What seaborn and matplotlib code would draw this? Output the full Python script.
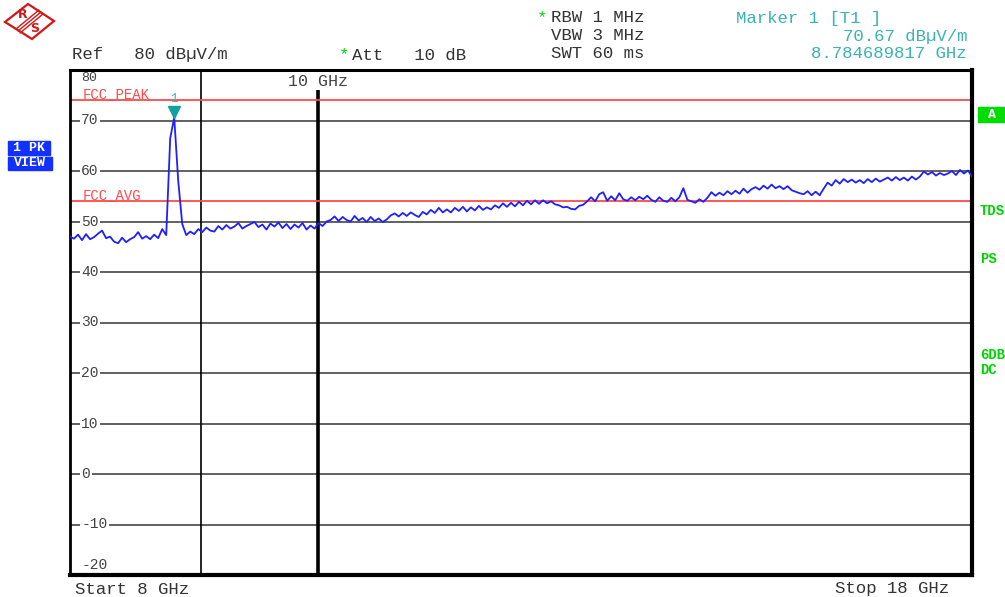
import numpy as np
import matplotlib.pyplot as plt
import matplotlib.transforms as mtransforms
from matplotlib.patches import Polygon, Rectangle
import seaborn as sns

# Sweep settings (GHz), log frequency axis
f_start = 8.0
f_stop = 18.0
n_points = 226
freq_ghz = np.geomspace(f_start, f_stop, n_points)

# Peak trace (dBuV/m)
level_dbuv = [
    47.0, 46.6, 47.4, 46.3, 47.5, 46.5, 46.9, 47.6, 48.2, 46.7,
    47.0, 46.0, 45.7, 46.8, 45.9, 46.5, 46.9, 47.9, 46.6, 47.1,
    46.5, 47.4, 46.7, 48.5, 47.3,
    66.5, 70.6, 58.0, 49.5,
    47.3, 48.0, 47.5, 48.5, 47.9, 48.8, 48.2, 48.0, 49.1, 48.4,
    49.3, 48.6, 49.0, 49.7, 48.6, 49.1, 49.5, 49.9, 48.9, 49.4,
    48.4, 49.6, 49.0, 49.8, 48.7, 49.5, 48.5, 49.4, 48.8, 49.7,
    48.4, 49.2, 48.6, 49.7, 49.1,
    50.0, 50.3, 51.0, 50.1, 50.9, 50.3, 50.0, 51.1, 50.2, 50.7,
    49.9, 50.9, 50.1, 50.6, 49.9, 50.4,
    51.2, 51.6, 51.0, 51.7, 51.1, 51.8, 51.3, 50.9, 51.9, 51.4,
    52.3, 51.7, 52.7, 51.8, 52.4, 51.8, 52.7, 52.1, 52.9, 52.0,
    52.8, 52.2, 53.1, 52.3, 52.8, 52.4,
    53.2, 52.7, 53.6, 52.9, 53.7, 53.0, 53.9, 53.2, 54.1, 53.4,
    54.2, 53.5, 54.2, 53.6, 54.0, 53.4,
    53.2, 52.8, 52.9, 52.5, 52.4, 53.1, 53.3, 54.0, 54.8, 54.0,
    55.4, 55.8, 54.1, 55.0, 54.2, 55.6, 54.4, 54.1, 54.8, 54.2,
    54.9, 54.4, 55.1, 54.3, 53.9, 54.8, 54.1, 53.9, 54.7, 54.0,
    54.8, 56.6,
    54.3, 54.0, 53.7, 54.4, 53.9, 54.7,
    55.8, 55.1, 55.7, 55.2, 56.0, 55.4, 56.1, 55.5, 56.5, 55.7,
    56.4, 56.8, 56.3, 57.1, 56.5, 57.3, 56.6, 57.0, 56.4, 57.0,
    56.2,
    55.9, 55.6, 55.4, 56.0, 55.2, 55.9, 55.2, 56.5,
    57.7, 57.1, 58.2, 57.5, 58.4, 57.8, 58.3, 57.7, 58.2, 57.6,
    58.4, 57.8, 58.5, 57.9, 58.3, 58.7, 58.1, 58.8, 58.2, 58.7,
    58.1, 58.9, 58.3, 58.9,
    59.9, 59.3, 59.8, 59.1, 59.6, 59.2, 59.5, 60.0, 59.2, 60.2,
    59.5, 60.1, 58.9,
]

ref_level = 80
y_ticks = [80, 70, 60, 50, 40, 30, 20, 10, 0, -10, -20]
limit_lines = {"FCC_PEAK": 74, "FCC_AVG": 54}
marker_freq = 8.784689817
marker_level = 70.67
grid_freqs = [9, 10]

# colours
trace_col = "#1f1fff"
limit_col = "#ff4a4a"
teal = "#3bb3b3"
green = "#00d400"
grey_txt = "#444444"

sns.set_style("white")
plt.rcParams["font.family"] = ["Liberation Mono", "DejaVu Sans Mono"]

W, H = 1005, 597
fig = plt.figure(figsize=(W / 100, H / 100), dpi=100)
ax = fig.add_axes([70 / W, 1 - 575 / H, (972 - 70) / W, (575 - 70) / H])


def fx(px):
    return px / W


def fy(py):
    return 1 - py / H


# horizontal graticule
for v in y_ticks[1:-1]:
    ax.axhline(v, color="#606060", lw=1.4, zorder=1)
# vertical graticule: 9 GHz thin, 10 GHz thick
ax.axvline(grid_freqs[0], color="black", lw=1.2, zorder=1)
ax.axvline(grid_freqs[1], color="black", lw=2.6, zorder=1)

# limit lines
for name, val in limit_lines.items():
    ax.axhline(val, color=limit_col, lw=1.3, zorder=2)
    ax.text(8.09, val + 0.55, name, color=limit_col,
            fontsize=10, va="baseline", ha="left", zorder=5)

# trace
sns.lineplot(x=freq_ghz, y=level_dbuv, ax=ax, color=trace_col, lw=1.3,
             zorder=4, legend=False)

# marker
up = mtransforms.offset_copy(ax.transData, fig=fig, x=0, y=4, units="points")
ax.plot([marker_freq], [marker_level], marker="v", ms=8, color="#10a0a0",
        transform=up, zorder=6)
ax.annotate("1", (marker_freq, marker_level), xytext=(0, 13),
            textcoords="offset points", ha="center", va="center",
            color=teal, fontsize=9, zorder=6)

ax.set_xscale("log")
ax.set_xlim(f_start, f_stop)
ax.set_ylim(-20, ref_level)
ax.set_xticks([])
ax.set_yticks([])
ax.minorticks_off()
ax.set_xlabel("")
ax.set_ylabel("")
for side, lw in {"left": 2.0, "top": 2.2, "right": 3.0, "bottom": 3.0}.items():
    ax.spines[side].set_color("black")
    ax.spines[side].set_linewidth(lw)
    ax.spines[side].set_visible(True)

# level labels inside the grid
for v in y_ticks:
    if v == ref_level:
        ax.text(0.0125, v - 1.65, str(v), transform=ax.get_yaxis_transform(),
                color=grey_txt, fontsize=9.5, ha="left", va="center", zorder=3)
    elif v == y_ticks[-1]:
        ax.text(0.0125, v + 2.0, str(v), transform=ax.get_yaxis_transform(),
                color=grey_txt, fontsize=10.5, ha="left", va="center", zorder=3)
    else:
        ax.text(0.0125, v, str(v), transform=ax.get_yaxis_transform(),
                color=grey_txt, fontsize=10.5, ha="left", va="center", zorder=3,
                bbox=dict(facecolor="white", edgecolor="none", pad=1.2))

ax.text(10, 77.8, "10 GHz", color=grey_txt, fontsize=12, ha="center",
        va="center", zorder=3,
        bbox=dict(facecolor="white", edgecolor="none", pad=0.8))

# header texts
fs = 12.5
hdr = dict(fontsize=fs, va="center", ha="left", color="#333333")
fig.text(fx(72), fy(55), "Ref   80 dBµV/m", **hdr)
fig.text(fx(339), fy(55), "*", color=green, fontsize=fs, va="center")
fig.text(fx(352), fy(55), "Att   10 dB", **hdr)
fig.text(fx(537), fy(18), "*", color=green, fontsize=fs, va="center")
fig.text(fx(551), fy(18), "RBW 1 MHz", **hdr)
fig.text(fx(551), fy(36), "VBW 3 MHz", **hdr)
fig.text(fx(551), fy(54), "SWT 60 ms", **hdr)
fig.text(fx(736), fy(18), "Marker 1 [T1 ]", color=teal, fontsize=fs,
         va="center", ha="left")
fig.text(fx(967), fy(36), f"{marker_level:.2f} dBµV/m", color=teal,
         fontsize=fs, va="center", ha="right")
fig.text(fx(967), fy(54), f"{marker_freq:.9f} GHz", color=teal,
         fontsize=fs, va="center", ha="right")

# footer
fig.text(fx(75), fy(589), "Start 8 GHz", **hdr)
fig.text(fx(835), fy(589), "Stop 18 GHz", **hdr)

# left trace info boxes
for text, y0, y1, x1 in [("1 PK", 141, 155, 50), ("VIEW", 157, 170, 52)]:
    fig.patches.append(Rectangle((fx(8), fy(y1)), fx(x1) - fx(8), fy(y0) - fy(y1),
                                 transform=fig.transFigure, color="#1230ff"))
    fig.text(fx((8 + x1) / 2), fy((y0 + y1) / 2), text, color="white",
             fontsize=9.5, weight="bold", ha="center", va="center")

# right side status
fig.patches.append(Rectangle((fx(978), fy(122)), fx(1005) - fx(978), fy(107) - fy(122),
                             transform=fig.transFigure, color="#00dd00"))
fig.text(fx(992), fy(115), "A", color="white", fontsize=9.5, weight="bold",
         ha="center", va="center")
for text, py in [("TDS", 211), ("PS", 259), ("6DB", 355), ("DC", 370)]:
    fig.text(fx(980), fy(py), text, color=green, fontsize=10, weight="bold",
             ha="left", va="center")

# R&S logo
diamond = [(5, 22), (28, 4), (54, 21), (32, 39)]
fig.patches.append(Polygon([(fx(a), fy(b)) for a, b in diamond], closed=True,
                           transform=fig.transFigure, fill=False,
                           edgecolor="#d01818", lw=1.6))
for d in (-2, 0, 2):
    fig.lines.append(plt.Line2D([fx(18 + d), fx(41 + d)], [fy(31 + d), fy(12 + d)],
                                transform=fig.transFigure, color="#d01818", lw=1.0))
fig.text(fx(23), fy(15), "R", color="#d01818", fontsize=9, weight="bold",
         ha="center", va="center", family="DejaVu Sans")
fig.text(fx(35), fy(28), "S", color="#d01818", fontsize=9, weight="bold",
         ha="center", va="center", family="DejaVu Sans")

fig.savefig("out.png", dpi=100)
